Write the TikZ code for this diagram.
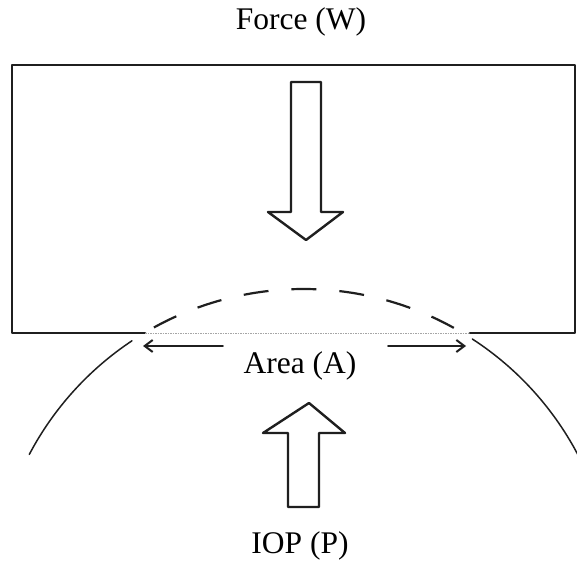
\documentclass[tikz,border=0pt]{standalone}
\usepackage{fontspec}
\setmainfont{Liberation Serif}
\usetikzlibrary{arrows.meta}
\tikzset{
  ink/.style={draw=black!88, line cap=round, line join=round},
  boxline/.style={ink, line width=2.8pt},
  blockarrow/.style={ink, line width=2.4pt, fill=white},
  cornea/.style={ink, line width=1.5pt},
  corneadash/.style={ink, line width=2.2pt, line cap=butt, dash pattern=on 25pt off 23pt},
  areaarrow/.style={ink, line width=1.7pt, -{Straight Barb[length=8pt,width=12pt,line width=2pt]}},
  lbl/.style={inner sep=0pt, anchor=base, font=\fontsize{31.5}{36}\selectfont}
}
\begin{document}
\begin{tikzpicture}[x=1pt,y=1pt]
\useasboundingbox (0,0) rectangle (577,560);
% labels
\node[lbl] (force) at (301,530) {Force (W)};
\node[lbl] (area) at (300,187) {Area (A)};
\node[lbl] (iop) at (300,7) {IOP (P)};
% box
\coordinate (bl) at (145,227);
\coordinate (br) at (470,227);
\draw[boxline] (bl) -- (12,227) -- (12,495) -- (575,495) -- (575,227) -- (br);
\draw[black!35, line width=0.9pt, dash pattern=on 1.5pt off 1pt] (bl) -- (br);
% cornea circle (center (303.5,-39), radius 310)
\coordinate (cc) at (303.5,-39);
\draw[corneadash] (cc) ++(61:310) arc[start angle=61, end angle=119, radius=310];
\draw[cornea] (cc) ++(123.6:310) arc[start angle=123.6, end angle=152.2, radius=310];
\draw[cornea] (cc) ++(57:310) arc[start angle=57, end angle=27, radius=310];
% area arrows
\coordinate (aL0) at (223,214);
\coordinate (aL1) at (143,214);
\coordinate (aR0) at (388,214);
\coordinate (aR1) at (466,214);
\draw[areaarrow] (aL0) -- (aL1);
\draw[areaarrow] (aR0) -- (aR1);
% force arrow (down)
\draw[blockarrow] (291,478) -- (321,478) -- (321,348) -- (343,348) -- (306,320) -- (268,348) -- (291,348) -- cycle;
% IOP arrow (up)
\draw[blockarrow] (288,53) -- (319,53) -- (319,127) -- (345,127) -- (309,157) -- (263,127) -- (288,127) -- cycle;
\end{tikzpicture}
\end{document}
